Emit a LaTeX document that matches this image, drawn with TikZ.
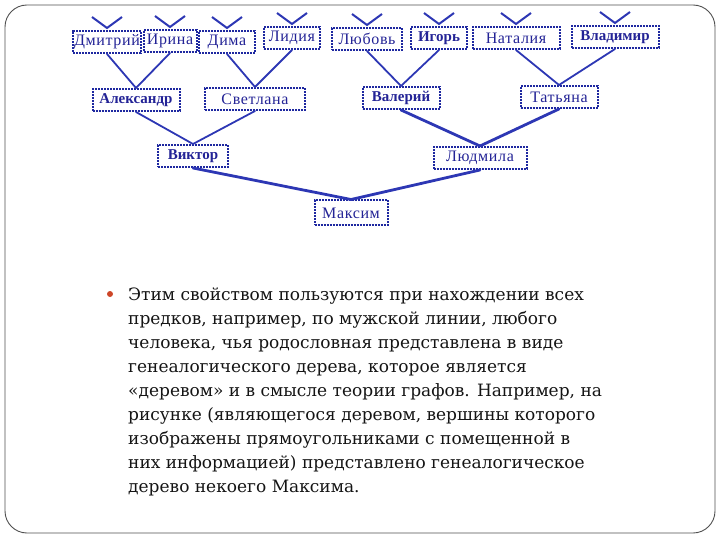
\documentclass[tikz,border=0pt]{standalone}
\usepackage{fontspec}
\setmainfont{DejaVu Serif}
\newfontfamily\boxfont[LetterSpace=4]{Liberation Serif}
\newfontfamily\boxboldfont[LetterSpace=0]{Liberation Serif}
\usetikzlibrary{calc}
\definecolor{treeblue}{RGB}{45,55,180}
\definecolor{boxblue}{RGB}{30,40,160}
\definecolor{textblue}{RGB}{35,35,150}
\definecolor{bodytext}{RGB}{20,20,20}
\definecolor{bulletred}{RGB}{205,70,40}
\definecolor{framegray}{RGB}{80,80,80}
\begin{document}
\begin{tikzpicture}[x=1pt,y=-1pt,
  person/.style={draw=boxblue, densely dotted, line width=2pt, fill=white,
    font=\boxfont\fontsize{16}{16}\selectfont, text=textblue, inner sep=1pt,
    minimum height=22pt},
  boldp/.style={person, font=\boxboldfont\bfseries\fontsize{15}{15}\selectfont},
  link/.style={treeblue, line width=1.8pt, line cap=round},
  thicklink/.style={treeblue, line width=2.8pt, line cap=round},
  vmark/.style={treeblue, line width=2pt},
  bodyline/.style={anchor=base west, inner sep=0pt, text=bodytext,
    font=\fontsize{17}{17}\selectfont}]
\useasboundingbox (0,0) rectangle (720,540);
\draw[framegray, line width=0.9pt, rounded corners=22pt] (5,5) rectangle (715,533);

% top row
\node[person, minimum width=66pt] (dmitry) at (107,42) {Дмитрий};
\node[person, minimum width=53pt] (irina) at (170,41) {Ирина};
\node[person, minimum width=56pt] (dima) at (227,42) {Дима};
\node[person, minimum width=56pt] (lidia) at (292,38) {Лидия};
\node[person, minimum width=70pt] (lubov) at (367,39) {Любовь};
\node[boldp, minimum width=56pt] (igor) at (439,38) {Игорь};
\node[person, minimum width=87pt] (natalia) at (516,38) {Наталия};
\node[boldp, minimum width=87pt] (vladimir) at (615,37) {Владимир};
% second row
\node[boldp, minimum width=87pt] (alex) at (136,100) {Александр};
\node[person, minimum width=100pt] (svetlana) at (255,99) {Светлана};
\node[boldp, minimum width=77pt] (valery) at (401,98) {Валерий};
\node[person, minimum width=77pt] (tatiana) at (559,97) {Татьяна};
% third row
\node[boldp, minimum width=70pt] (viktor) at (193,156) {Виктор};
\node[person, minimum width=93pt] (ludmila) at (480,158) {Людмила};
% root
\node[person, minimum width=73pt, minimum height=25pt] (maxim) at (351,213) {Максим};

% V marks above the top row
\foreach \n in {dmitry,irina,dima,lidia,lubov,igor,natalia,vladimir}
  \draw[vmark] ($(\n.north)+(-15,-13)$) -- ($(\n.north)+(0,-2)$) -- ($(\n.north)+(15,-13)$);

% connectors
\draw[link] (dmitry.south) -- (alex.north);
\draw[link] (irina.south) -- (alex.north);
\draw[link] (dima.south) -- (svetlana.north);
\draw[link] (lidia.south) -- (svetlana.north);
\draw[link] (lubov.south) -- (valery.north);
\draw[link] (igor.south) -- (valery.north);
\draw[link] (natalia.south) -- (tatiana.north);
\draw[link] (vladimir.south) -- (tatiana.north);
\draw[link] (alex.south) -- (viktor.north);
\draw[link] (svetlana.south) -- (viktor.north);
\draw[thicklink] (valery.south) -- (ludmila.north);
\draw[thicklink] (tatiana.south) -- (ludmila.north);
\draw[thicklink] (viktor.south) -- (maxim.north);
\draw[thicklink] (ludmila.south) -- (maxim.north);

% body text
\node[circle, fill=bulletred, minimum size=6pt, inner sep=0pt] (bullet) at (110,294) {};
\foreach \t [count=\i] in {
  {Этим свойством пользуются при нахождении всех},
  {предков, например, по мужской линии, любого},
  {человека, чья родословная представлена в виде},
  {генеалогического дерева, которое является},
  {«деревом» и в смысле теории графов. Например, на},
  {рисунке (являющегося деревом, вершины которого},
  {изображены прямоугольниками с помещенной в},
  {них информацией) представлено генеалогическое},
  {дерево некоего Максима.}}
  \node[bodyline] (line\i) at (128,{300+24*(\i-1)}) {\t};
\end{tikzpicture}
\end{document}
